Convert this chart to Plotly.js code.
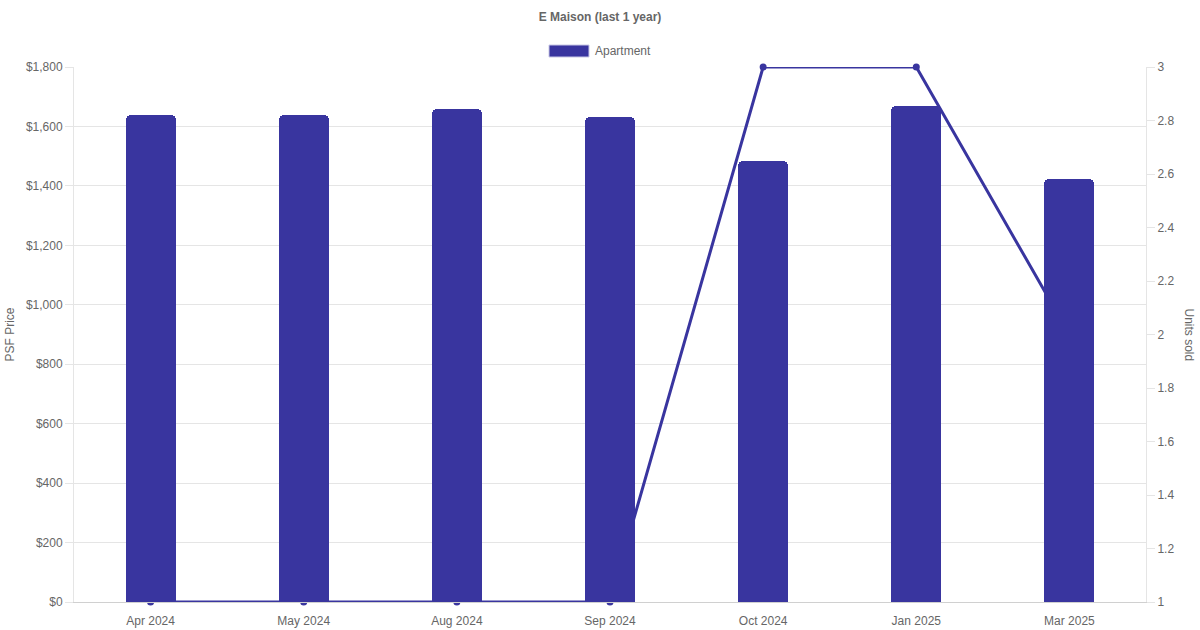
<!DOCTYPE html>
<html>
<head>
<meta charset="utf-8">
<script src="https://cdn.plot.ly/plotly-3.0.1.min.js"></script>
<style>html,body{margin:0;padding:0;background:#fff;}#chart{width:1200px;height:630px;}</style>
</head>
<body>
<div id="chart"></div>
<script>
const chartTitle = 'E Maison (last 1 year)';
const categories = ['Apr 2024', 'May 2024', 'Aug 2024', 'Sep 2024', 'Oct 2024', 'Jan 2025', 'Mar 2025'];
const psfPrice = [1638, 1638, 1658, 1631, 1484, 1668, 1423];
const unitsSold = [1, 1, 1, 1, 3, 3, 2];
const barName = 'Apartment';
const leftTitle = 'PSF Price';
const rightTitle = 'Units sold';

const col = '#39359f';
const txt = '#666666';
const grid = '#e5e5e5';
const font = 'Liberation Sans, Arial, Helvetica, sans-serif';

const traces = [
  {
    type: 'scatter', mode: 'lines+markers', x: categories, y: unitsSold,
    yaxis: 'y', line: {color: col, width: 3}, marker: {color: col, size: 7},
    cliponaxis: false, showlegend: false, hoverinfo: 'x+y'
  },
  {
    type: 'bar', x: categories, y: psfPrice, yaxis: 'y2', name: barName,
    marker: {color: col, line: {width: 0}}, width: 0.327, showlegend: false
  }
];

const layout = {
  width: 1200, height: 630,
  paper_bgcolor: '#fff', plot_bgcolor: 'rgba(0,0,0,0)',
  margin: {l: 74, r: 54, t: 67, b: 28},
  font: {family: font, size: 12, color: txt},
  title: {text: '<b>' + chartTitle + '</b>', font: {family: font, size: 12, color: txt},
          x: 0.5, xanchor: 'center', y: 1 - 17/630, yanchor: 'middle', yref: 'container'},
  showlegend: false,
  bargap: 0,
  xaxis: {
    type: 'category', range: [-0.5, 6.5], showgrid: false, zeroline: false,
    showline: true, linecolor: '#d0d0d0', linewidth: 1,
    ticks: 'outside', ticklen: 8, tickcolor: 'rgba(0,0,0,0)',
    tickfont: {family: font, size: 12, color: txt}, fixedrange: true
  },
  yaxis: {
    side: 'right', range: [1, 3], dtick: 0.2, tick0: 1, showgrid: false, zeroline: false,
    showline: true, linecolor: grid, linewidth: 1,
    ticks: 'outside', ticklen: 8, tickcolor: grid,
    tickfont: {family: font, size: 12, color: txt}
  },
  yaxis2: {
    overlaying: 'y', side: 'left', range: [0, 1800], dtick: 200, tick0: 0,
    tickprefix: '$', tickformat: ',d', showgrid: true, gridcolor: grid, gridwidth: 1,
    zeroline: false, showline: true, linecolor: grid, linewidth: 1,
    ticks: 'outside', ticklen: 8, tickcolor: grid,
    tickfont: {family: font, size: 12, color: txt},
    title: {text: leftTitle, font: {family: font, size: 12, color: txt}, standoff: 8}
  },
  barcornerradius: 5,
  shapes: [
    {type: 'rect', xref: 'paper', yref: 'paper',
     x0: (549-74)/1072, x1: (589-74)/1072, y0: (601-56)/535, y1: (601-44)/535,
     fillcolor: col, line: {width: 1, color: '#c9c8e6'}}
  ],
  annotations: [
    {text: barName, xref: 'paper', yref: 'paper', x: (593-74)/1072, y: (601-50)/535,
     xanchor: 'left', yanchor: 'middle', showarrow: false,
     font: {family: font, size: 12, color: txt}},
    {text: rightTitle, xref: 'paper', yref: 'paper', x: (1189-74)/1072, y: 0.5,
     xanchor: 'center', yanchor: 'middle', showarrow: false, textangle: 90,
     font: {family: font, size: 12, color: txt}}
  ]
};

Plotly.newPlot('chart', traces, layout, {displayModeBar: false, responsive: false});
</script>
</body>
</html>
